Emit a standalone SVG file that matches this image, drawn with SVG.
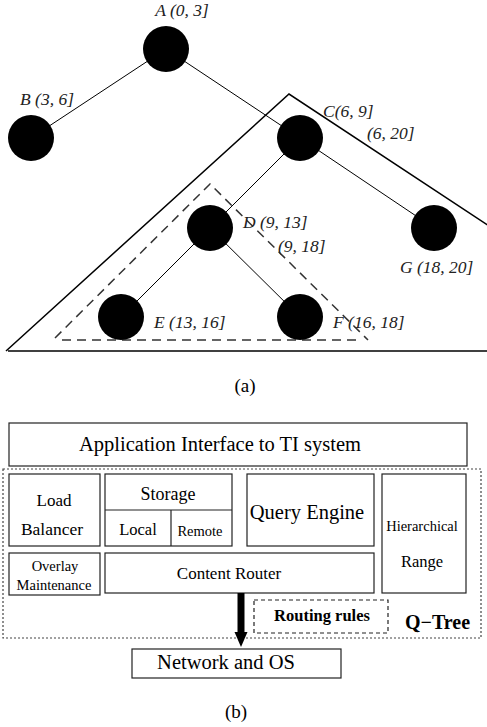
<svg xmlns="http://www.w3.org/2000/svg" width="487" height="727" viewBox="0 0 487 727">
<style>
text{font-family:"Liberation Serif","Times New Roman",serif;fill:#000}
.lbl{font-style:italic;font-size:17.5px;fill:#222}
.node{fill:#000}
.edge{stroke:#000;stroke-width:1;fill:none}
.box{fill:#fff;stroke:#222;stroke-width:1.2}
.c{text-anchor:middle}
</style>
<defs>
<marker id="ah" markerWidth="4" markerHeight="4" refX="2" refY="2" orient="auto" markerUnits="strokeWidth">
<path d="M0,0.2 L4,2 L0,3.8 Z" fill="#000"/>
</marker>
</defs>
<g id="connectors">
<line class="edge" x1="166" y1="49" x2="31" y2="138"/>
<line class="edge" x1="166" y1="49" x2="300" y2="138"/>
<line class="edge" x1="300" y1="138" x2="210" y2="228"/>
<line class="edge" x1="300" y1="138" x2="434" y2="228"/>
<line class="edge" x1="210" y1="228" x2="121" y2="317"/>
<line class="edge" x1="210" y1="228" x2="300" y2="317"/>
</g>
<g id="region-c">
<polyline points="6,351 289,94 680,352" fill="none" stroke="#000" stroke-width="1.5"/>
<line x1="8" y1="351" x2="487" y2="351" stroke="#000" stroke-width="1.5"/>
</g>
<g id="region-d">
<polyline points="55,338 210,184 368,340" fill="none" stroke="#333" stroke-width="1.5" stroke-dasharray="9,6"/>
<line x1="62" y1="340" x2="360" y2="340" stroke="#333" stroke-width="1.5" stroke-dasharray="9,6"/>
</g>
<g id="A"><circle class="node" cx="166" cy="49" r="23"/><text class="lbl c" x="182" y="16">A (0, 3]</text></g>
<g id="B"><circle class="node" cx="31" cy="138" r="23"/><text class="lbl c" x="47" y="105">B (3, 6]</text></g>
<g id="C"><circle class="node" cx="300" cy="138" r="23"/><text class="lbl" x="323" y="117">C(6, 9]</text><text class="lbl" x="367" y="139">(6, 20]</text></g>
<g id="D"><circle class="node" cx="210" cy="228" r="23"/><text class="lbl" x="243" y="228">D (9, 13]</text><text class="lbl" x="278" y="252">(9, 18]</text></g>
<g id="G"><circle class="node" cx="434" cy="228" r="23"/><text class="lbl" x="400" y="273">G (18, 20]</text></g>
<g id="E"><circle class="node" cx="121" cy="317" r="23"/><text class="lbl" x="154" y="328">E (13, 16]</text></g>
<g id="F"><circle class="node" cx="300" cy="317" r="23"/><text class="lbl" x="333" y="328">F (16, 18]</text></g>
<text class="c" x="245" y="392" font-size="19">(a)</text>

<g id="app"><rect class="box" x="9" y="423" width="458" height="43"/><text class="c" x="220" y="451" font-size="20.5">Application Interface to TI system</text></g>
<g id="qtree"><rect x="3" y="469" width="478" height="169" fill="none" stroke="#444" stroke-width="1.2" stroke-dasharray="2,2"/><text x="405" y="629" font-size="20" font-weight="bold">Q−Tree</text></g>
<g id="load"><rect class="box" x="9" y="474" width="91" height="72"/><text class="c" x="54" y="506" font-size="17">Load</text><text class="c" x="52" y="535" font-size="17.5">Balancer</text></g>
<g id="storage"><rect class="box" x="105" y="474" width="127" height="72"/><line x1="105" y1="510" x2="232" y2="510" stroke="#222" stroke-width="1.2"/><line x1="171" y1="510" x2="171" y2="546" stroke="#222" stroke-width="1.2"/><text class="c" x="168" y="500" font-size="18">Storage</text><text class="c" x="138" y="535" font-size="16.5">Local</text><text class="c" x="200" y="536" font-size="14.5">Remote</text></g>
<g id="query"><rect class="box" x="247" y="474" width="127" height="72"/><text class="c" x="307" y="519" font-size="20.5">Query Engine</text></g>
<g id="hier"><rect class="box" x="382" y="474" width="84" height="119"/><text class="c" x="422" y="531" font-size="14.5">Hierarchical</text><text class="c" x="422" y="567" font-size="16.5">Range</text></g>
<g id="overlay"><rect class="box" x="9" y="553" width="91" height="42"/><text class="c" x="55" y="571" font-size="14.5">Overlay</text><text class="c" x="54" y="590" font-size="14.5">Maintenance</text></g>
<g id="router"><rect class="box" x="105" y="553" width="269" height="40"/><text class="c" x="229" y="579" font-size="17">Content Router</text></g>
<g id="rules"><rect x="254" y="600" width="134" height="33" fill="none" stroke="#222" stroke-width="1.2" stroke-dasharray="4,3"/><text class="c" x="322" y="621" font-size="16.5" font-weight="bold">Routing rules</text></g>
<g id="net"><rect class="box" x="132" y="649" width="209" height="29"/><text class="c" x="226" y="669" font-size="20.5">Network and OS</text></g>
<g id="arrow"><line x1="241" y1="593" x2="241" y2="634" stroke="#000" stroke-width="7"/><path d="M234.5,632 L247.5,632 L241,647 Z" fill="#000"/></g>
<text class="c" x="236" y="718" font-size="19">(b)</text>
</svg>
